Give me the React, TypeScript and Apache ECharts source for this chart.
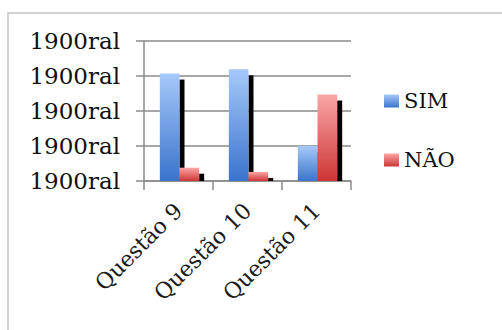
import React, { useEffect, useRef } from "react";
import * as echarts from "echarts";

const categories = ["Questão 9", "Questão 10", "Questão 11"];
const seriesNames = ["SIM", "NÃO"];
const simValues = [3.07, 3.19, 1.0];
const naoValues = [0.38, 0.26, 2.47];
const yTickLabel = "1900ral";

const FONT = "DejaVu Serif";

const blueGrad = () =>
  new echarts.graphic.LinearGradient(0, 0, 0, 1, [
    { offset: 0, color: "#a6c9f9" },
    { offset: 1, color: "#3a74cc" },
  ]);
const redGrad = () =>
  new echarts.graphic.LinearGradient(0, 0, 0, 1, [
    { offset: 0, color: "#fba6a6" },
    { offset: 1, color: "#cc3535" },
  ]);

export default function App() {
  const ref = useRef<HTMLDivElement>(null);
  useEffect(() => {
    if (!ref.current) return;
    const chart = echarts.init(ref.current, undefined, { renderer: "svg" });
    const makeRender = (s: number) => (params: any, api: any) => {
      const cat = api.value(0);
      const val = api.value(1);
      const base = api.coord([cat, 0]);
      const top = api.coord([cat, val]);
      const band = api.size([1, 0])[0];
      const bw = band * 0.285;
      const x0 = base[0] + 1 - bw + s * bw;
      const dx = 5;
      const dy = 6;
      const h = base[1] - top[1];
      const children: any[] = [];
      if (h - dy > 0) {
        children.push({
          type: "rect",
          shape: { x: x0 + bw, y: top[1] + dy, width: dx, height: h - dy },
          style: { fill: "#000000" },
        });
      }
      children.push({
        type: "rect",
        shape: { x: x0, y: top[1], width: bw, height: h },
        style: { fill: s === 0 ? blueGrad() : redGrad() },
      });
      return { type: "group", children };
    };
    const option: any = {
      animation: false,
      backgroundColor: "#ffffff",
      graphic: [
        {
          type: "rect",
          shape: { x: 8, y: 13, width: 600, height: 400 },
          style: { fill: "none", stroke: "#c4c4c4", lineWidth: 1.5 },
          silent: true,
        },
      ],
      grid: { left: 144, top: 41, right: 151, bottom: 149 },
      legend: {
        orient: "vertical",
        left: 379,
        top: 84,
        itemWidth: 15,
        itemHeight: 13,
        itemGap: 35,
        icon: "rect",
        textStyle: {
          fontFamily: FONT,
          fontSize: 21,
          color: "#111111",
          lineHeight: 24,
        },
        data: [
          { name: seriesNames[0], itemStyle: { color: blueGrad() } },
          { name: seriesNames[1], itemStyle: { color: redGrad() } },
        ],
      },
      xAxis: {
        type: "category",
        data: categories,
        boundaryGap: true,
        axisLine: { lineStyle: { color: "#8a8a8a", width: 1.5 } },
        axisTick: { show: true, length: 9, lineStyle: { color: "#8a8a8a", width: 1.5 } },
        axisLabel: {
          rotate: 45,
          interval: 0,
          margin: 26,
          fontFamily: FONT,
          fontSize: 22,
          color: "#1a1a1a",
        },
      },
      yAxis: {
        type: "value",
        min: 0,
        max: 4,
        interval: 1,
        axisLine: { show: true, lineStyle: { color: "#8a8a8a", width: 1.5 } },
        axisTick: { show: true, length: 8, lineStyle: { color: "#8a8a8a", width: 1.5 } },
        splitLine: { show: true, lineStyle: { color: "#8a8a8a", width: 1.5 } },
        axisLabel: {
          margin: 24,
          fontFamily: FONT,
          fontSize: 23,
          color: "#111111",
          formatter: () => yTickLabel,
        },
      },
      series: [
        {
          name: seriesNames[0],
          type: "custom",
          renderItem: makeRender(0),
          itemStyle: { color: blueGrad() },
          encode: { x: 0, y: 1 },
          data: simValues.map((v, i) => [i, v]),
        },
        {
          name: seriesNames[1],
          type: "custom",
          renderItem: makeRender(1),
          itemStyle: { color: redGrad() },
          encode: { x: 0, y: 1 },
          data: naoValues.map((v, i) => [i, v]),
        },
      ],
    };
    chart.setOption(option);
    return () => chart.dispose();
  }, []);
  return (
    <div
      ref={ref}
      style={{ position: "fixed", left: 0, top: 0, width: 502, height: 330 }}
    />
  );
}
